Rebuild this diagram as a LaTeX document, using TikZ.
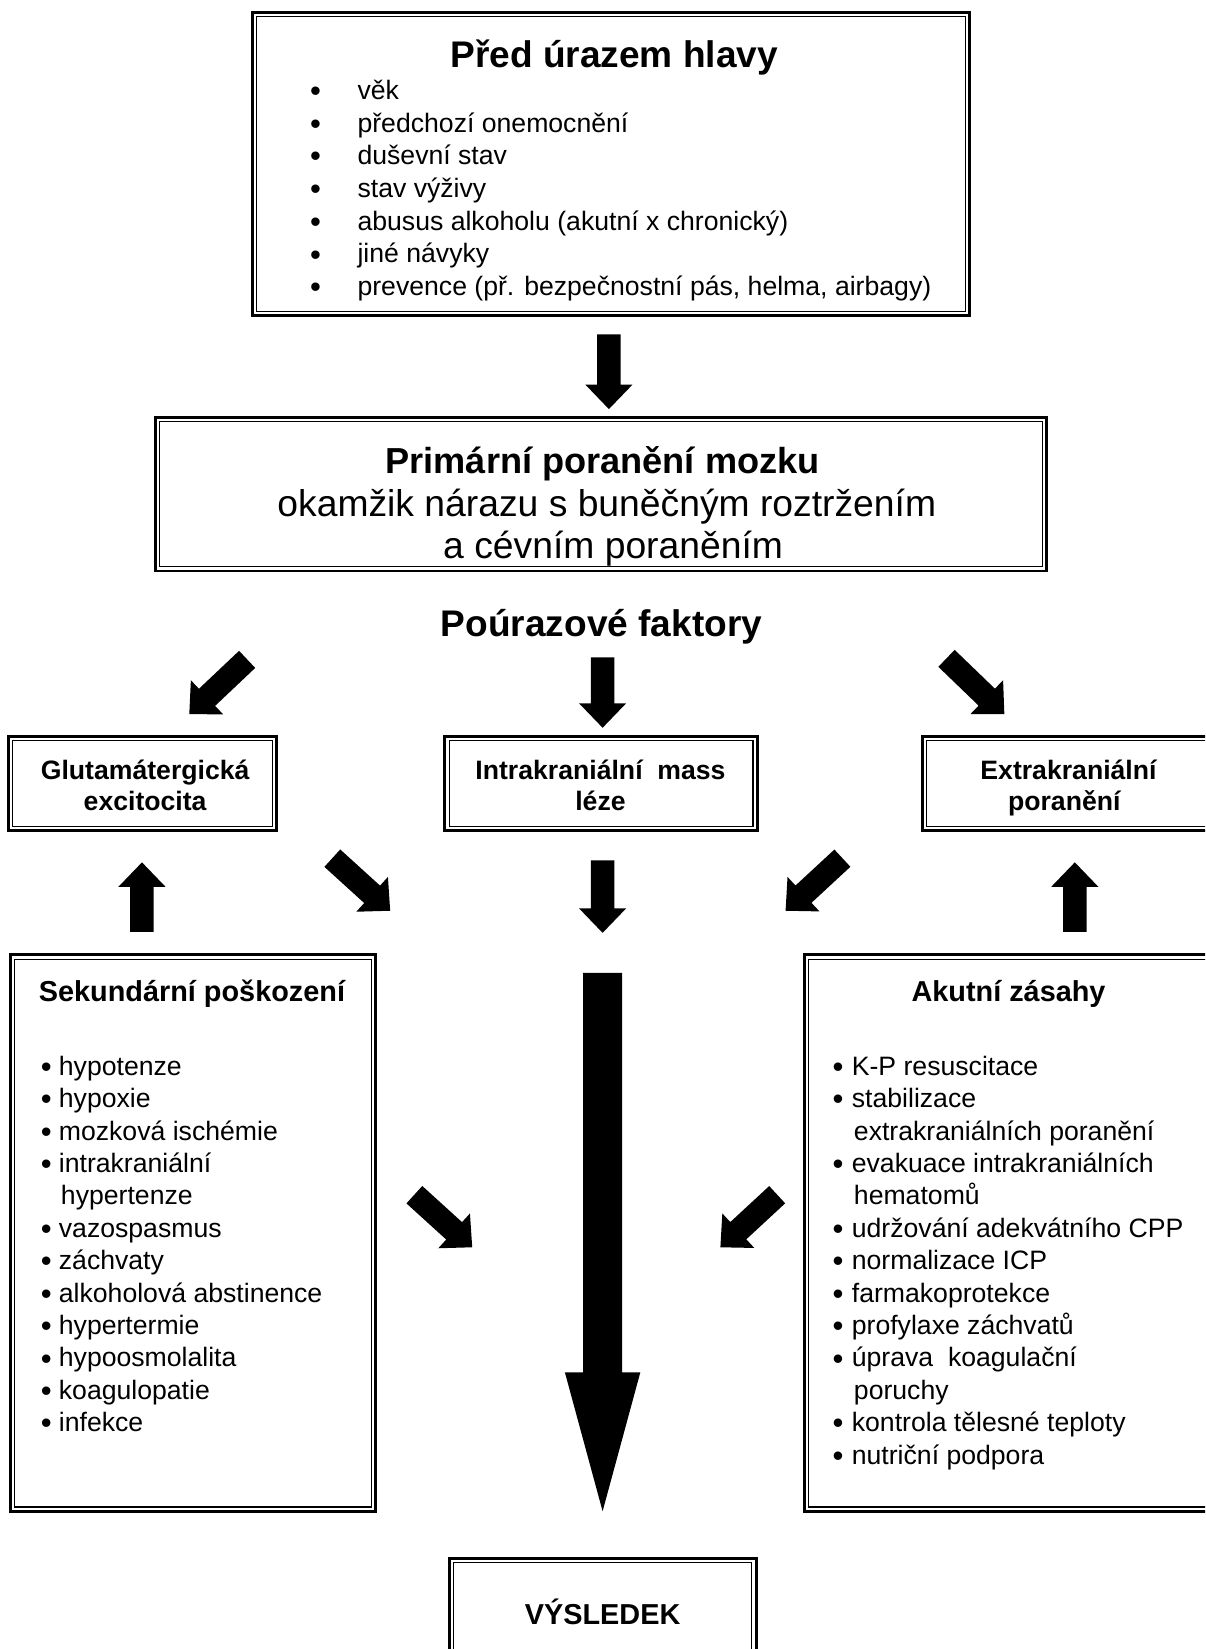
\documentclass[tikz,border=0pt]{standalone}
\usepackage{fontspec}
\setmainfont{Liberation Sans}
\usetikzlibrary{calc,fit}

% block arrow from tail coordinate #1 to tip coordinate #2
% #3 shaft half width, #4 head half width, #5 head length
\newcommand\blockarrow[5]{%
  \coordinate (#1-hd) at ($(#2)!#5!(#1)$);
  \fill[black] ($(#1)!#3!90:(#2)$) -- ($(#1-hd)!#3!90:(#2)$) -- ($(#1-hd)!#4!90:(#2)$)
     -- (#2) -- ($(#1-hd)!#4!-90:(#2)$) -- ($(#1-hd)!#3!-90:(#2)$) -- ($(#1)!#3!-90:(#2)$) -- cycle;
}
\newcommand\smallarrow[2]{\blockarrow{#1}{#2}{5.3pt}{10.6pt}{11pt}}

% thick outer line plus thin inner line
\newcommand\innerline[1]{%
  \draw[line width=0.5pt] ($(#1.north west)+(1.9pt,-1.9pt)$) rectangle ($(#1.south east)+(-1.9pt,1.9pt)$);
}

\tikzset{
  every node/.style={inner sep=0pt, outer sep=0pt},
  frame/.style={draw, line width=1.3pt, inner sep=0pt},
  item/.style={anchor=mid west, font=\fontsize{12}{14}\selectfont},
  dot/.style={anchor=mid, font=\fontsize{14}{16}\selectfont},
  bigtitle/.style={anchor=base, font=\fontsize{16.7}{20}\selectfont\bfseries},
  midtitle/.style={anchor=base, font=\fontsize{13}{16}\selectfont\bfseries},
  smalltitle/.style={anchor=base, font=\fontsize{12}{14}\selectfont\bfseries},
}

\begin{document}
\begin{tikzpicture}[x=0.474pt, y=-0.474pt]
\useasboundingbox (0,0) rectangle (1146,1568);
\fill[white] (0,0) rectangle (1146,1568);
\clip (0,0) rectangle (1146,1568);

% ---------- before the injury ----------
\node[frame, fit={(240,12) (922,300)}] (pre) {};
\innerline{pre}
\node[bigtitle] (pretitle) at (584,64) {Před úrazem hlavy};
\foreach \t [count=\i from 0] in {věk, předchozí onemocnění, duševní stav, stav výživy,
    abusus alkoholu (akutní x chronický), jiné návyky,
    {prevence (př. bezpečnostní pás, helma, airbagy)}} {
  \node[dot] (pre-b\i) at (300,91+31.1*\i) {•};
  \node[item] (pre-i\i) at (340,89+31.1*\i) {\t};
}

% ---------- primary injury ----------
\node[frame, fit={(148,397) (995,543)}] (prim) {};
\innerline{prim}
\node[anchor=base, font=\fontsize{16.3}{20}\selectfont\bfseries] (prim1) at (573,450) {Primární poranění mozku};
\node[anchor=base, font=\fontsize{16.8}{20}\selectfont] (prim2) at (577,491) {okamžik nárazu s buněčným roztržením};
\node[anchor=base, font=\fontsize{16.8}{20}\selectfont] (prim3) at (583,531) {a cévním poraněním};

\coordinate (a1t) at (579,318); \coordinate (a1h) at (579,389);
\smallarrow{a1t}{a1h}

\node[bigtitle] (post) at (572,605) {Poúrazové faktory};

% ---------- post-injury factors ----------
\node[frame, fit={(8,700) (263,790)}] (glu) {};
\innerline{glu}
\node[smalltitle] (glu1) at (138,741) {Glutamátergická};
\node[smalltitle] (glu2) at (138,771) {excitocita};

\node[frame, fit={(423,700) (720,790)}] (mass) {};
\innerline{mass}
\node[smalltitle] (mass1) at (571,741) {Intrakraniální\ \ mass};
\node[smalltitle] (mass2) at (571,771) {léze};

\node[frame, fit={(877,700) (1152,790)}] (extra) {};
\innerline{extra}
\node[smalltitle] (extra1) at (1016,741) {Extrakraniální};
\node[smalltitle] (extra2) at (1012,771) {poranění};

% arrows from the factor heading
\coordinate (r1lt) at (235,627); \coordinate (r1lh) at (180,679);
\coordinate (r1ct) at (573,625); \coordinate (r1ch) at (573,692);
\coordinate (r1rt) at (900,626); \coordinate (r1rh) at (955,679);
\smallarrow{r1lt}{r1lh}
\smallarrow{r1ct}{r1ch}
\smallarrow{r1rt}{r1rh}

% arrows between the rows
\coordinate (r2at) at (135,886); \coordinate (r2ah) at (135,820);
\coordinate (r2bt) at (316,816); \coordinate (r2bh) at (371,866);
\coordinate (r2ct) at (573,818); \coordinate (r2ch) at (573,887);
\coordinate (r2dt) at (801,816); \coordinate (r2dh) at (747,866);
\coordinate (r2et) at (1022,886); \coordinate (r2eh) at (1022,820);
\smallarrow{r2at}{r2ah}
\smallarrow{r2bt}{r2bh}
\smallarrow{r2ct}{r2ch}
\smallarrow{r2dt}{r2dh}
\smallarrow{r2et}{r2eh}

% ---------- secondary damage ----------
\node[frame, fit={(10,908) (357,1437)}] (sec) {};
\innerline{sec}
\node[midtitle, anchor=base west] (sectitle) at (37,952) {Sekundární poškození};
\foreach \k/\t in {0/hypotenze, 1/hypoxie, 2/mozková ischémie, 3/intrakraniální,
    5/vazospasmus, 6/záchvaty, 7/alkoholová abstinence, 8/hypertermie,
    9/hypoosmolalita, 10/koagulopatie, 11/infekce} {
  \node[dot] (sec-b\k) at (44,1019+30.8*\k) {•};
  \node[item] (sec-i\k) at (56,1017+30.8*\k) {\t};
}
\node[item] (sec-i4) at (58,1017+30.8*4) {hypertenze};

% ---------- acute interventions ----------
\node[frame, fit={(765,908) (1152,1437)}] (acute) {};
\innerline{acute}
\node[midtitle] (acutetitle) at (959,952) {Akutní zásahy};
\foreach \k/\t in {0/K-P resuscitace, 1/stabilizace, 3/evakuace intrakraniálních,
    5/udržování adekvátního CPP, 6/normalizace ICP, 7/farmakoprotekce,
    8/profylaxe záchvatů, 9/úprava\ \ koagulační, 11/kontrola tělesné teploty,
    12/nutriční podpora} {
  \node[dot] (ac-b\k) at (797,1019+30.8*\k) {•};
  \node[item] (ac-i\k) at (810,1017+30.8*\k) {\t};
}
\node[item] (ac-i2) at (812,1017+30.8*2) {extrakraniálních poranění};
\node[item] (ac-i4) at (812,1017+30.8*4) {hematomů};
\node[item] (ac-i10) at (812,1017+30.8*10) {poruchy};

% arrows into the main flow
\coordinate (r3lt) at (394,1136); \coordinate (r3lh) at (449,1186);
\coordinate (r3rt) at (739,1136); \coordinate (r3rh) at (685,1186);
\smallarrow{r3lt}{r3lh}
\smallarrow{r3rt}{r3rh}

% main flow towards the outcome
\coordinate (maint) at (573,925); \coordinate (mainh) at (573,1437);
\blockarrow{maint}{mainh}{8.8pt}{17pt}{62.6pt}

% ---------- outcome ----------
\node[frame, fit={(427,1482) (719,1610)}] (res) {};
\innerline{res}
\node[midtitle] (restitle) at (573,1545) {VÝSLEDEK};
\end{tikzpicture}
\end{document}
